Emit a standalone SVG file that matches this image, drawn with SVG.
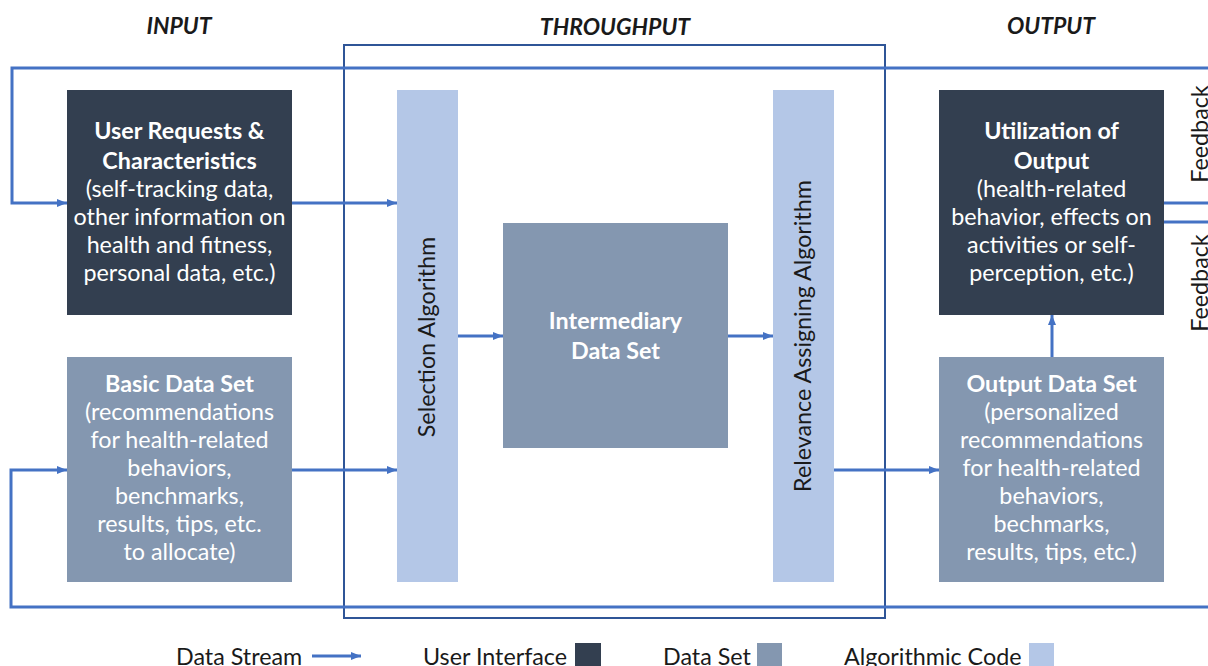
<svg xmlns="http://www.w3.org/2000/svg" width="1208" height="666" viewBox="0 0 1208 666">
<defs>
<marker id="ah" markerWidth="10" markerHeight="8" refX="10" refY="4" orient="auto" markerUnits="userSpaceOnUse">
<path d="M0,0 L10,4 L0,8 Z" fill="#4472c4"/>
</marker>
<style>
.t{font-family:Lato,"Liberation Sans",sans-serif;font-size:23.3px;fill:#ffffff;text-anchor:middle}
.b{font-weight:bold}
.k{font-family:Lato,"Liberation Sans",sans-serif;font-size:23.3px;fill:#1a1a1a}
.h{font-family:Lato,"Liberation Sans",sans-serif;font-size:23px;font-weight:bold;font-style:italic;fill:#1a1a1a;text-anchor:middle}
.ui{fill:#333f50}
.ds{fill:#8497b0}
.al{fill:#b4c7e7}
.c{fill:none;stroke:#4472c4;stroke-width:3}
</style>
</defs>
<rect width="1208" height="666" fill="#ffffff"/>
<text class="h" x="179" y="34">INPUT</text>
<text class="h" x="615" y="35">THROUGHPUT</text>
<text class="h" x="1051" y="34">OUTPUT</text>
<rect x="344" y="45" width="541" height="573" fill="none" stroke="#2f5597" stroke-width="2"/>
<g id="connectors">
<path class="c" d="M1208,68 L12,68 L12,203 L67,203" marker-end="url(#ah)"/>
<path class="c" d="M1208,607 L11,607 L11,470 L67,470" marker-end="url(#ah)"/>
<path class="c" d="M1164,203 L1208,203"/>
<path class="c" d="M1164,222 L1208,222"/>
<path class="c" d="M292,203 L397,203" marker-end="url(#ah)"/>
<path class="c" d="M292,470 L397,470" marker-end="url(#ah)"/>
<path class="c" d="M458,336 L503,336" marker-end="url(#ah)"/>
<path class="c" d="M728,336 L773,336" marker-end="url(#ah)"/>
<path class="c" d="M834,470 L939,470" marker-end="url(#ah)"/>
<path class="c" d="M1052,357 L1052,315" marker-end="url(#ah)"/>
</g>
<text class="k" transform="translate(1208,134) rotate(-90)" text-anchor="middle">Feedback</text>
<text class="k" transform="translate(1208,283) rotate(-90)" text-anchor="middle">Feedback</text>
<g id="user-requests">
<rect class="ui" x="67" y="90" width="225" height="225"/>
<text class="t b" x="179.5" y="139">User Requests &amp;</text>
<text class="t b" x="179.5" y="169">Characteristics</text>
<text class="t" x="179.5" y="197">(self-tracking data,</text>
<text class="t" x="179.5" y="225">other information on</text>
<text class="t" x="179.5" y="253">health and fitness,</text>
<text class="t" x="179.5" y="281">personal data, etc.)</text>
</g>
<g id="basic-data-set">
<rect class="ds" x="67" y="357" width="225" height="225"/>
<text class="t b" x="179.5" y="392">Basic Data Set</text>
<text class="t" x="179.5" y="420">(recommendations</text>
<text class="t" x="179.5" y="448">for health-related</text>
<text class="t" x="179.5" y="476">behaviors,</text>
<text class="t" x="179.5" y="504">benchmarks,</text>
<text class="t" x="179.5" y="532">results, tips, etc.</text>
<text class="t" x="179.5" y="560">to allocate)</text>
</g>
<g id="selection-algorithm">
<rect class="al" x="397" y="90" width="61" height="492"/>
<text class="k" transform="translate(435,337) rotate(-90)" text-anchor="middle">Selection Algorithm</text>
</g>
<g id="intermediary">
<rect class="ds" x="503" y="223" width="225" height="225"/>
<text class="t b" x="615.5" y="329">Intermediary</text>
<text class="t b" x="615.5" y="359">Data Set</text>
</g>
<g id="relevance-algorithm">
<rect class="al" x="773" y="90" width="61" height="492"/>
<text class="k" transform="translate(811,336) rotate(-90)" text-anchor="middle">Relevance Assigning Algorithm</text>
</g>
<g id="utilization">
<rect class="ui" x="939" y="90" width="225" height="225"/>
<text class="t b" x="1051.5" y="139">Utilization of</text>
<text class="t b" x="1051.5" y="169">Output</text>
<text class="t" x="1051.5" y="197">(health-related</text>
<text class="t" x="1051.5" y="225">behavior, effects on</text>
<text class="t" x="1051.5" y="253">activities or self-</text>
<text class="t" x="1051.5" y="281">perception, etc.)</text>
</g>
<g id="output-data-set">
<rect class="ds" x="939" y="357" width="225" height="225"/>
<text class="t b" x="1051.5" y="392">Output Data Set</text>
<text class="t" x="1051.5" y="420">(personalized</text>
<text class="t" x="1051.5" y="448">recommendations</text>
<text class="t" x="1051.5" y="476">for health-related</text>
<text class="t" x="1051.5" y="504">behaviors,</text>
<text class="t" x="1051.5" y="532">bechmarks,</text>
<text class="t" x="1051.5" y="560">results, tips, etc.)</text>
</g>
<g id="legend">
<text class="k" x="176" y="665">Data Stream</text>
<path class="c" d="M312,656 L361,656" marker-end="url(#ah)"/>
<text class="k" x="423" y="665">User Interface</text>
<rect class="ui" x="575" y="643" width="26" height="23"/>
<text class="k" x="663" y="665">Data Set</text>
<rect class="ds" x="757" y="643" width="25" height="23"/>
<text class="k" x="844" y="665">Algorithmic Code</text>
<rect class="al" x="1029" y="643" width="25" height="23"/>
</g>
</svg>
